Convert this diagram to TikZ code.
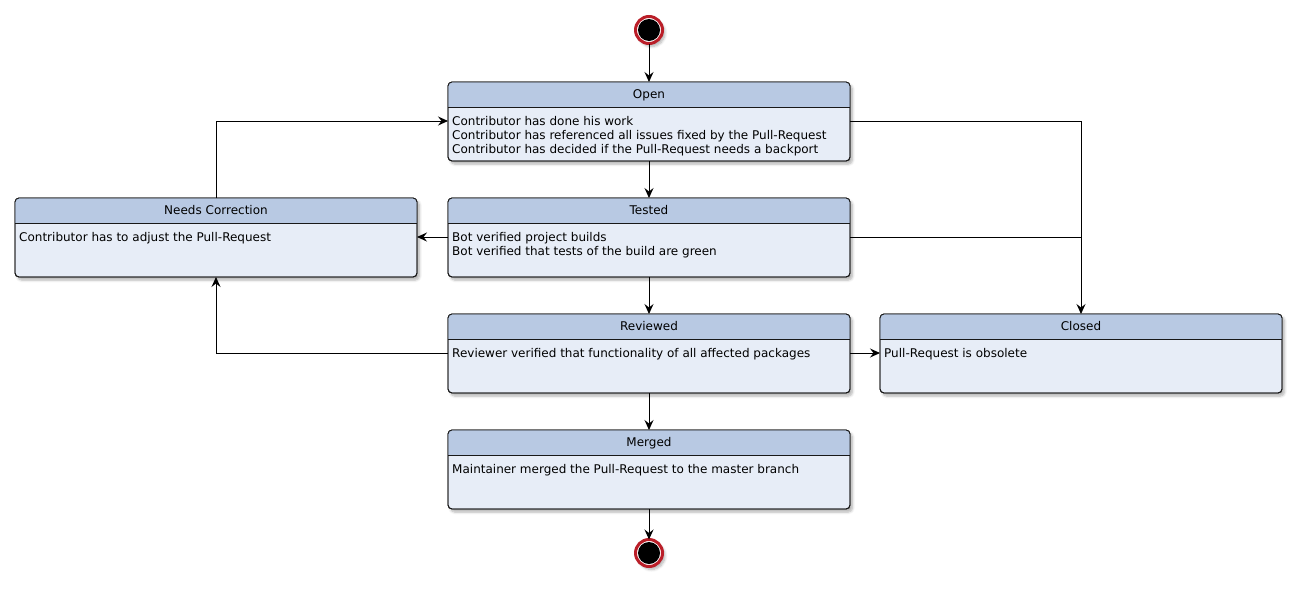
\documentclass[tikz,border=0pt]{standalone}
\usepackage{fontspec}
\setmainfont{DejaVu Sans}
\usetikzlibrary{arrows.meta,shadows.blur}
\definecolor{headfill}{HTML}{B8C9E3}
\definecolor{bodyfill}{HTML}{E7EDF7}
\definecolor{edgecol}{HTML}{181818}
\definecolor{ringred}{RGB}{186,30,40}
\tikzset{
  softshadow/.style={blur shadow={shadow xshift=2.5pt, shadow yshift=-3pt,
    shadow blur radius=2.5pt, shadow blur steps=6, shadow opacity=30}},
  statebox/.style={draw=edgecol, line width=0.9pt, rounded corners=4pt, fill=bodyfill,
    inner sep=0pt, outer sep=0pt, minimum width=402pt, minimum height=79pt, anchor=north west,
    softshadow},
  statetitle/.style={font=\fontsize{12}{14}\selectfont, anchor=base, inner sep=0pt},
  statebody/.style={font=\fontsize{12}{14}\selectfont, anchor=base west, inner sep=0pt},
  flow/.style={draw=black, line width=0.9pt, -{Stealth[length=10pt,width=9pt,inset=3.5pt]}},
  plainline/.style={draw=black, line width=0.9pt},
  pseudo/.style={circle, draw=ringred, line width=3pt, fill=white, minimum size=27pt,
    inner sep=0pt, outer sep=0pt, softshadow},
  pseudodot/.style={circle, fill=black, minimum size=22pt, inner sep=0pt},
}
% a state: name, left x, top y, title, body lines
\newcommand\umlstate[5]{%
  \node[statebox] (#1) at (#2,#3) {};
  \begin{scope}
    \clip[rounded corners=4pt] (#1.north west) rectangle (#1.south east);
    \fill[headfill] (#1.north west) rectangle ([yshift=-25pt]#1.north east);
  \end{scope}
  \draw[edgecol, line width=0.9pt] ([yshift=-25pt]#1.north west) -- ([yshift=-25pt]#1.north east);
  \draw[edgecol, line width=0.9pt, rounded corners=4pt] (#1.north west) rectangle (#1.south east);
  \node[statetitle] (#1-t) at ([yshift=-16.5pt]#1.north) {#4};
  \node[statebody] (#1-b) at ([xshift=4pt,yshift=-43.5pt]#1.north west)
    {\begin{tabular}[t]{@{}l@{}}#5\end{tabular}};
  \coordinate (#1-l) at ([yshift=-39pt]#1.north west);
  \coordinate (#1-r) at ([yshift=-39pt]#1.north east);
}
\begin{document}
\begin{tikzpicture}[x=1pt, y=-1pt]
\useasboundingbox (0,0) rectangle (1298,592);

\node[pseudo] (start) at (649,30) {};
\node[pseudodot] (start-dot) at (start) {};
\node[pseudo] (end) at (649,553) {};
\node[pseudodot] (end-dot) at (end) {};

\umlstate{open}{448}{82}{Open}{Contributor has done his work\\Contributor has referenced all issues fixed by the Pull-Request\\Contributor has decided if the Pull-Request needs a backport}
\umlstate{nc}{15}{198}{Needs Correction}{Contributor has to adjust the Pull-Request}
\umlstate{tested}{448}{198}{Tested}{Bot verified project builds\\Bot verified that tests of the build are green}
\umlstate{reviewed}{448}{314}{Reviewed}{Reviewer verified that functionality of all affected packages}
\umlstate{closed}{880}{314}{Closed}{Pull-Request is obsolete}
\umlstate{merged}{448}{430}{Merged}{Maintainer merged the Pull-Request to the master branch}

\draw[flow] (start.south) -- (open.north);
\draw[flow] (open.south) -- (tested.north);
\draw[flow] (tested.south) -- (reviewed.north);
\draw[flow] (reviewed.south) -- (merged.north);
\draw[flow] (merged.south) -- (end.north);

\draw[flow] (nc.north) |- (open-l);
\draw[flow] (open-r) -| (closed.north);
\draw[plainline] (tested-r) -- (tested-r -| closed.north);
\draw[flow] (tested-l) -- (tested-l -| nc.east);
\draw[flow] (reviewed-l) -| (nc.south);
\draw[flow] (reviewed-r) -- (reviewed-r -| closed.west);
\end{tikzpicture}
\end{document}
